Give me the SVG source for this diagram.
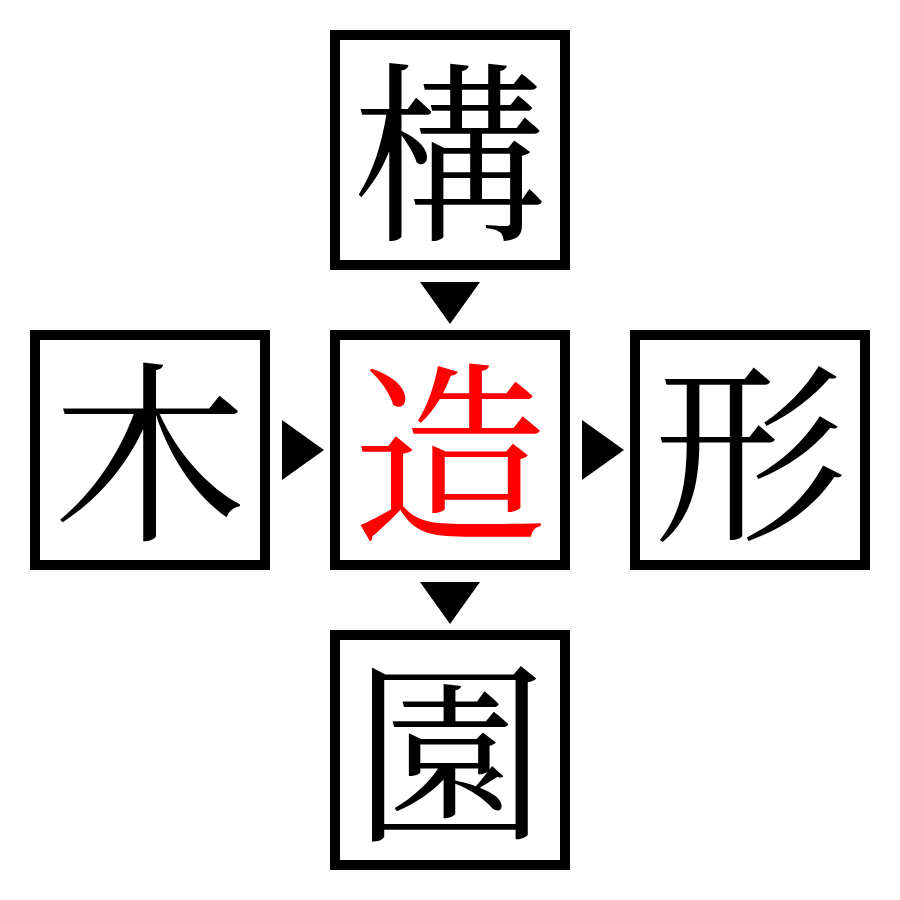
<svg xmlns="http://www.w3.org/2000/svg" width="900" height="900" viewBox="0 0 900 900">
<style>
.box{fill:#fff;stroke:#000;stroke-width:10}
.ch{font-family:"Noto Serif CJK JP","Noto Sans CJK JP","Noto Sans CJK SC",serif;font-size:194px;text-anchor:middle;dominant-baseline:central;fill:#000}
.red{fill:#ff0000}
.arr{fill:#000}
</style>
<rect width="900" height="900" fill="#fff"/>
<g id="n-top"><rect class="box" x="335" y="35" width="230" height="230"/><text class="ch" x="450" y="142">構</text></g>
<g id="n-left"><rect class="box" x="35" y="335" width="230" height="230"/><text class="ch" x="150" y="442">木</text></g>
<g id="n-center"><rect class="box" x="335" y="335" width="230" height="230"/><text class="ch red" x="450" y="442">造</text></g>
<g id="n-right"><rect class="box" x="635" y="335" width="230" height="230"/><text class="ch" x="750" y="442">形</text></g>
<g id="n-bottom"><rect class="box" x="335" y="635" width="230" height="230"/><text class="ch" x="450" y="742">園</text></g>
<g id="connectors">
<polygon class="arr" points="420,282 480,282 450,324"/>
<polygon class="arr" points="282,420 282,480 324,450"/>
<polygon class="arr" points="582,420 582,480 624,450"/>
<polygon class="arr" points="420,582 480,582 450,624"/>
</g>
</svg>
